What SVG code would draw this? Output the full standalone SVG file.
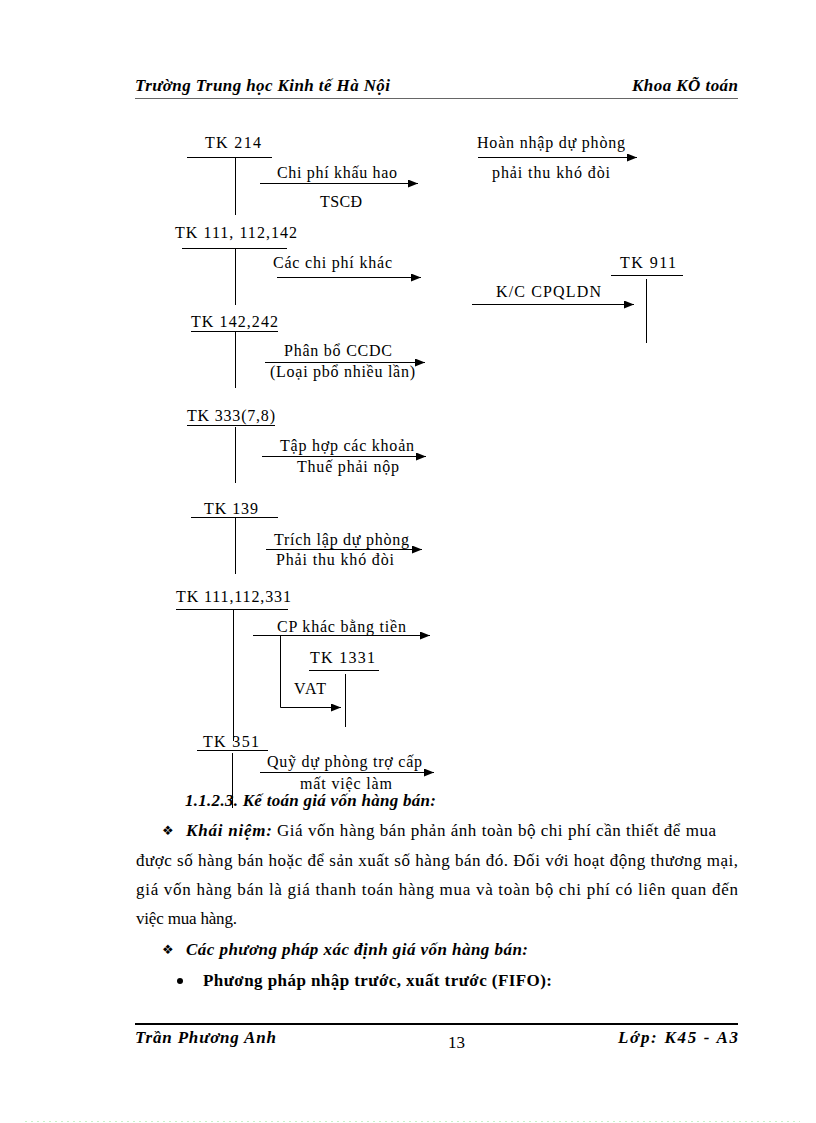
<svg xmlns="http://www.w3.org/2000/svg" width="816" height="1123" viewBox="0 0 816 1123">
<style>
.t{font-family:"Liberation Serif","Times New Roman",serif;font-size:16px;fill:#000}
.b{font-family:"Liberation Serif","Times New Roman",serif;font-size:17px;fill:#000}
.bi{font-family:"Liberation Serif","Times New Roman",serif;font-size:17px;font-weight:bold;font-style:italic;fill:#000}
.bd{font-family:"Liberation Serif","Times New Roman",serif;font-size:17px;font-weight:bold;fill:#000}
.ln{stroke:#000;stroke-width:1;fill:none}
.ar{stroke:#000;stroke-width:1;fill:none;marker-end:url(#ah)}
</style>
<defs>
<marker id="ah" viewBox="0 0 10 8" refX="10" refY="4" markerWidth="10" markerHeight="8" markerUnits="userSpaceOnUse" orient="auto">
<path d="M0,0 L10,4 L0,8 Z" fill="#000"/>
</marker>
</defs>
<rect width="816" height="1123" fill="#fff"/>

<g id="header">
<text class="bi" x="135" y="91" textLength="255">Trường Trung học Kinh tế Hà Nội</text>
<text class="bi" x="632" y="91" textLength="106">Khoa KÕ toán</text>
<line x1="135" y1="98.5" x2="738" y2="98.5" stroke="#666" stroke-width="1"/>
</g>

<g id="tk214">
<text class="t" x="205" y="148" textLength="56">TK 214</text>
<line class="ln" x1="187" y1="157.5" x2="272" y2="157.5"/>
<line class="ln" x1="235.5" y1="158" x2="235.5" y2="215"/>
</g>
<g id="tk111_112_142">
<text class="t" x="175" y="238" textLength="122">TK 111, 112,142</text>
<line class="ln" x1="182" y1="248.5" x2="287" y2="248.5"/>
<line class="ln" x1="235.5" y1="249" x2="235.5" y2="305"/>
</g>
<g id="tk911">
<text class="t" x="620" y="268" textLength="56">TK 911</text>
<line class="ln" x1="611" y1="275.5" x2="683" y2="275.5"/>
<line class="ln" x1="646.5" y1="279" x2="646.5" y2="343"/>
</g>
<g id="tk142_242">
<text class="t" x="191" y="327" textLength="87">TK 142,242</text>
<line class="ln" x1="191" y1="331.5" x2="278" y2="331.5"/>
<line class="ln" x1="235.5" y1="332" x2="235.5" y2="388"/>
</g>
<g id="tk333">
<text class="t" x="187" y="421" textLength="88">TK 333(7,8)</text>
<line class="ln" x1="187" y1="425.5" x2="275" y2="425.5"/>
<line class="ln" x1="235.5" y1="427" x2="235.5" y2="483"/>
</g>
<g id="tk139">
<text class="t" x="204" y="514" textLength="54">TK 139</text>
<line class="ln" x1="191" y1="517.5" x2="278" y2="517.5"/>
<line class="ln" x1="235.5" y1="518" x2="235.5" y2="574"/>
</g>
<g id="tk111_112_331">
<text class="t" x="176" y="602" textLength="115">TK 111,112,331</text>
<line class="ln" x1="176" y1="609.5" x2="288" y2="609.5"/>
<line class="ln" x1="233.5" y1="610" x2="233.5" y2="741"/>
</g>
<g id="tk1331">
<text class="t" x="310" y="663" textLength="65">TK 1331</text>
<line class="ln" x1="309" y1="670.5" x2="379" y2="670.5"/>
<line class="ln" x1="345.5" y1="674" x2="345.5" y2="727"/>
</g>
<g id="tk351">
<text class="t" x="203" y="747" textLength="56">TK 351</text>
<line class="ln" x1="197" y1="750.5" x2="268" y2="750.5"/>
<line class="ln" x1="232.5" y1="753" x2="232.5" y2="808"/>
</g>

<g id="connectors">
<line class="ar" x1="260" y1="183.5" x2="418" y2="183.5"/>
<text class="t" x="277" y="178" textLength="120">Chi phí khấu hao</text>
<text class="t" x="320" y="207" textLength="42">TSCĐ</text>

<line class="ar" x1="478" y1="157.5" x2="637" y2="157.5"/>
<text class="t" x="477" y="148" textLength="148">Hoàn nhập  dự phòng</text>
<text class="t" x="492" y="178" textLength="118">phải thu khó đòi</text>

<line class="ar" x1="277" y1="277.5" x2="421" y2="277.5"/>
<text class="t" x="273" y="268" textLength="119">Các chi phí khác</text>

<line class="ar" x1="472" y1="304.5" x2="634" y2="304.5"/>
<text class="t" x="496" y="297" textLength="105">K/C CPQLDN</text>

<line class="ar" x1="265" y1="362.5" x2="425" y2="362.5"/>
<text class="t" x="284" y="356" textLength="108">Phân bổ CCDC</text>
<text class="t" x="270" y="377" textLength="145">(Loại pbổ nhiều lần)</text>

<line class="ar" x1="262" y1="456.5" x2="426" y2="456.5"/>
<text class="t" x="280" y="451" textLength="134">Tập  hợp các khoản</text>
<text class="t" x="297" y="472" textLength="102">Thuế  phải nộp</text>

<line class="ar" x1="266" y1="549.5" x2="422" y2="549.5"/>
<text class="t" x="274" y="545" textLength="135">Trích lập dự phòng</text>
<text class="t" x="276" y="565" textLength="118">Phải thu khó đòi</text>

<line class="ar" x1="253" y1="635.5" x2="430" y2="635.5"/>
<text class="t" x="277" y="632" textLength="129">CP khác bằng tiền</text>
<polyline class="ar" points="280.5,635 280.5,707.5 341,707.5"/>
<text class="t" x="294" y="694" textLength="32">VAT</text>

<line class="ar" x1="260" y1="772.5" x2="434" y2="772.5"/>
<text class="t" x="267" y="767" textLength="155">Quỹ dự phòng trợ cấp</text>
<text class="t" x="300" y="789" textLength="92">mất việc làm</text>
</g>

<g id="body">
<text class="bi" x="185" y="806" textLength="251">1.1.2.3. Kế toán giá vốn  hàng bán:</text>
<text x="162" y="835" font-family="DejaVu Sans,sans-serif" font-size="13" fill="#000">❖</text>
<text class="bi" x="186" y="836" textLength="86">Khái niệm:</text>
<text class="b" x="277" y="836" textLength="439">Giá vốn hàng bán phản ánh toàn bộ chi phí cần thiết để mua</text>
<text class="b" x="136" y="866" textLength="602">được số hàng bán hoặc để sản xuất số hàng bán đó. Đối với hoạt động thương mại,</text>
<text class="b" x="136" y="895" textLength="602">giá vốn hàng bán là giá thanh toán hàng mua và toàn bộ chi phí có liên quan đến</text>
<text class="b" x="136" y="924" textLength="101">việc mua hàng.</text>
<text x="162" y="954" font-family="DejaVu Sans,sans-serif" font-size="13" fill="#000">❖</text>
<text class="bi" x="186" y="955" textLength="342">Các phương pháp xác định giá vốn hàng bán:</text>
<circle cx="180" cy="981" r="3" fill="#000"/>
<text class="bd" x="203" y="986" textLength="349">Phương pháp nhập trước, xuất trước (FIFO):</text>
</g>

<g id="footer">
<line x1="135" y1="1024" x2="738" y2="1024" stroke="#000" stroke-width="2"/>
<text class="bi" x="135" y="1043" textLength="141">Trần Phương Anh</text>
<text class="b" x="448" y="1048">13</text>
<text class="bi" x="618" y="1043" textLength="120">Lớp: K45 - A3</text>
<line x1="25" y1="1121.5" x2="800" y2="1121.5" stroke="#c8f0c8" stroke-width="1" stroke-dasharray="2,4"/>
</g>
</svg>
